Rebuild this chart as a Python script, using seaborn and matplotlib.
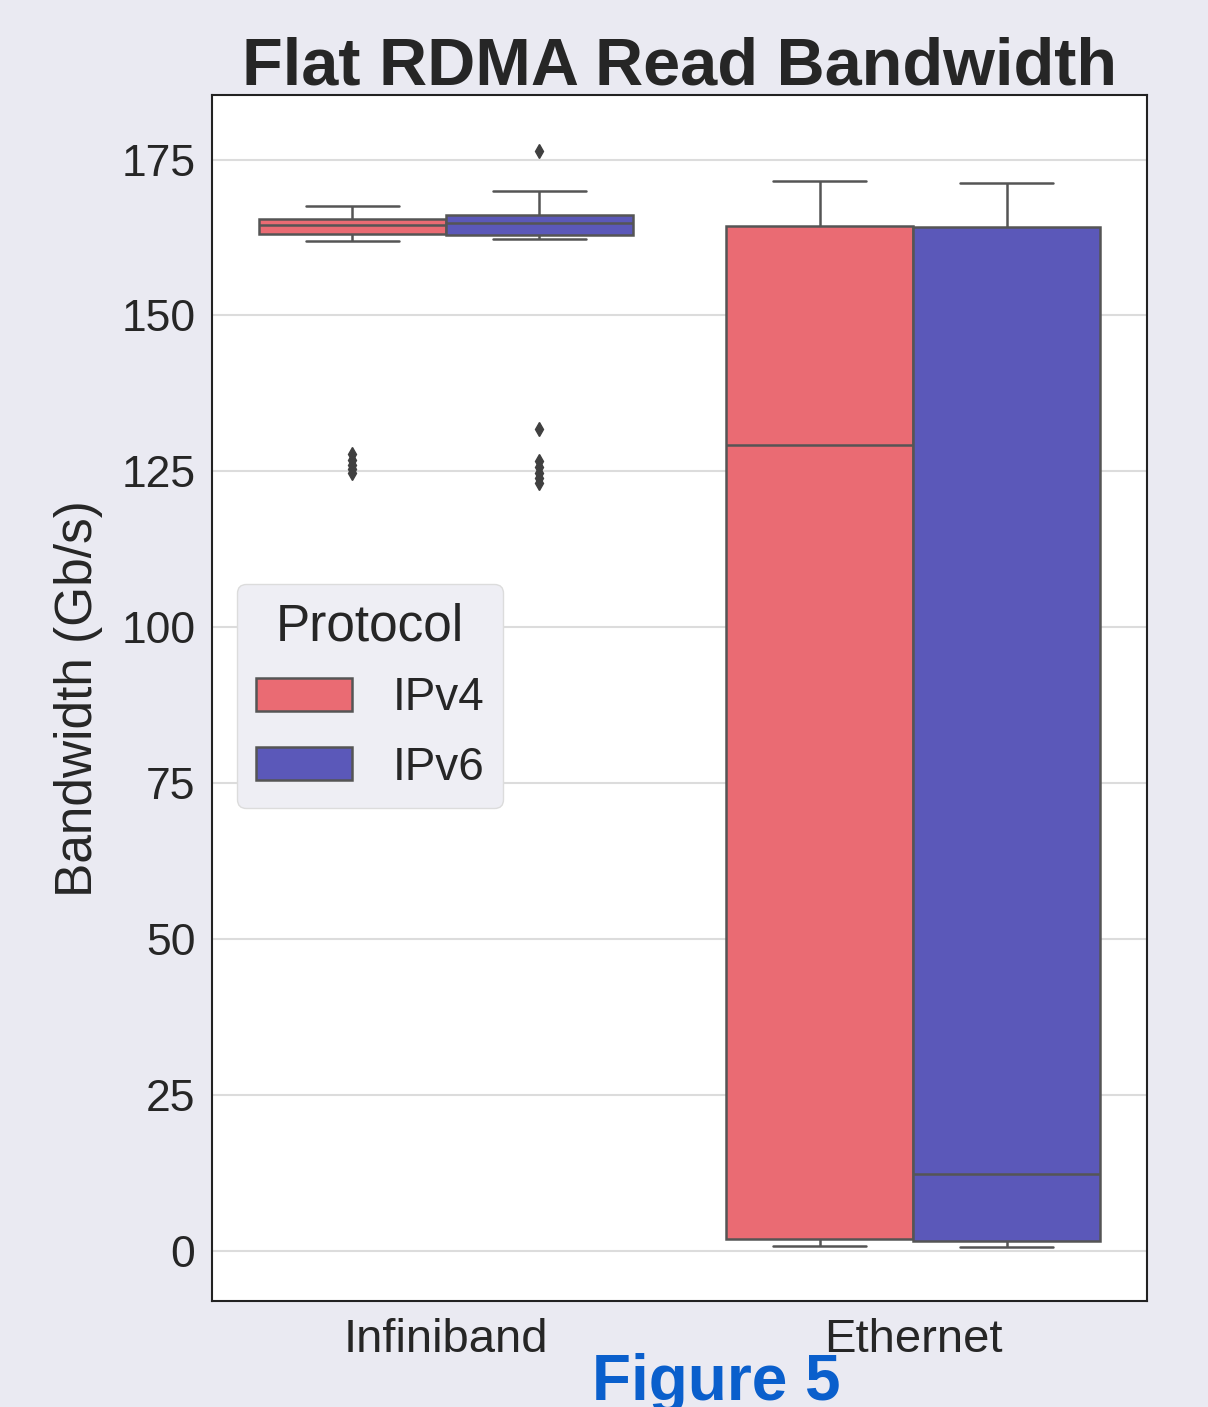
import matplotlib
matplotlib.use("Agg")
import matplotlib.pyplot as plt
import seaborn as sns
import pandas as pd

# ---- data ----
categories = ["Infiniband", "Ethernet"]
protocols = ["IPv4", "IPv6"]

ib_ipv4 = [124.7, 125.4, 126.1, 126.9, 127.8,
           161.9, 163.1, 163.4, 163.7, 163.9, 164.1, 164.3, 164.5,
           164.7, 164.9, 165.0, 165.2, 165.3, 165.4,
           165.8, 166.2, 166.6, 167.0, 167.3, 167.6]
ib_ipv6 = [123.2, 124.0, 124.8, 125.7, 126.7, 131.8,
           162.3, 162.9, 163.2, 163.5, 163.8, 164.1, 164.4, 164.6, 164.8,
           165.0, 165.2, 165.4, 165.6, 165.8, 166.0, 166.1,
           166.8, 167.6, 168.4, 169.2, 169.6, 170.0, 176.4]
eth_ipv4 = [0.85, 1.2, 1.9, 60.0, 129.3, 150.0, 164.4, 168.0, 171.6]
eth_ipv6 = [0.64, 1.0, 1.7, 5.0, 12.3, 90.0, 164.2, 168.0, 171.2]

colors = {"IPv4": "#ea6b73", "IPv6": "#5b58b9"}

rows = []
for cat, proto, vals in [("Infiniband", "IPv4", ib_ipv4), ("Infiniband", "IPv6", ib_ipv6),
                         ("Ethernet", "IPv4", eth_ipv4), ("Ethernet", "IPv6", eth_ipv6)]:
    for v in vals:
        rows.append({"Network": cat, "Protocol": proto, "Bandwidth": v})
df = pd.DataFrame(rows)

sns.set_theme(style="whitegrid")
plt.rcParams["font.family"] = ["Liberation Sans", "DejaVu Sans"]
plt.rcParams["figure.facecolor"] = "#eaeaf2"

fig = plt.figure(figsize=(12.08, 14.07), dpi=100)
ax = fig.add_axes([0.1755, 0.0753, 0.774, 0.857])
ax.set_facecolor("white")

sns.boxplot(data=df, x="Network", y="Bandwidth", hue="Protocol",
            order=categories, hue_order=protocols, palette=colors,
            saturation=1, linecolor="#555555", linewidth=1.8,
            flierprops=dict(marker="d", markersize=7, markerfacecolor="#404040",
                            markeredgecolor="#404040"),
            ax=ax)

ax.set_xlim(-0.5, 1.5)
ax.set_ylim(-8.0, 185.3)
ax.set_yticks([0, 25, 50, 75, 100, 125, 150, 175])
ax.grid(axis="y", color="#dcdcdc", linewidth=1.5)
ax.grid(axis="x", visible=False)
for s in ax.spines.values():
    s.set_color("#222222")
    s.set_linewidth(1.5)
ax.tick_params(axis="y", labelsize=32, length=0, pad=12, labelcolor="#262626")
ax.tick_params(axis="x", labelsize=34, length=0, pad=12, labelcolor="#262626")
ax.set_xlabel("")
ax.set_ylabel("Bandwidth (Gb/s)", fontsize=37, labelpad=13, color="#262626")
ax.set_title("Flat RDMA Read Bandwidth", fontsize=48, fontweight="bold",
             color="#262626", pad=8)

handles, labels = ax.get_legend_handles_labels()
ax.legend(handles, labels, title="Protocol", loc="lower left",
          bbox_to_anchor=(0.027, 0.409), borderaxespad=0,
          fontsize=33, title_fontsize=37, handlelength=2.1, handleheight=0.72,
          handletextpad=0.9, facecolor="#eeeef4", edgecolor="#dcdcdc",
          framealpha=1, labelspacing=0.55)

fig.text(0.593, 0.005, "Figure 5", fontsize=46, fontweight="bold",
         color="#0a5fcc", ha="center", va="baseline")

fig.savefig("out.png", dpi=100)
